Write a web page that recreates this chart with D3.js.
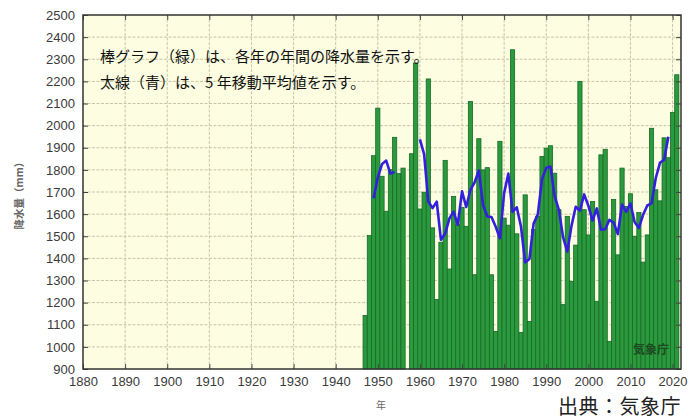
<!DOCTYPE html>
<html>
<head>
<meta charset="utf-8">
<script src="https://cdn.jsdelivr.net/npm/d3@7/dist/d3.min.js"></script>
<style>
  body { margin: 0; background: #ffffff; }
  svg { display: block; }
</style>
</head>
<body>
<svg id="chart" width="690" height="419"></svg>
<script>
// Annual precipitation (mm), 1947-2021; null = no record for that year
const years = d3.range(1947, 2022);
const precipitation = [
  1142, 1503, 1864, 2079, 1771, 1613, 1801, 1947, 1783, 1808,
  null, 1873, 2283, 1623, 1699, 2211, 1538, 1214, 1473, 1843,
  1352, 1680, 1552, 1630, 1545, 2109, 1326, 1941, 1800, 1810,
  1326, 1070, 1929, 1582, 1550, 2343, 1511, 1065, 1687, 1115,
  1530, 1590, 1861, 1898, 1909, 1785, 1620, 1191, 1590, 1296,
  1460, 2200, 1620, 1506, 1657, 1206, 1868, 1893, 1025, 1666,
  1416, 1808, 1635, 1692, 1500, 1607, 1383, 1506, 1988, 1710,
  1660, 1945, 1855, 2059, 2230
];
// 5-year moving average (mm), same years; null where no value is plotted
const movingAverage = [
  null, null, 1672, 1766, 1826, 1842, 1783, 1790, null, null,
  null, null, null, 1938, 1871, 1657, 1627, 1656, 1484, 1512,
  1580, 1611, 1552, 1703, 1632, 1710, 1744, 1797, 1641, 1589,
  1587, 1543, 1491, 1695, 1783, 1610, 1631, 1544, 1382, 1397,
  1557, 1599, 1758, 1809, 1815, 1681, 1619, 1496, 1431, 1547,
  1633, 1616, 1689, 1638, 1571, 1626, 1530, 1532, 1574, 1562,
  1510, 1643, 1610, 1648, 1563, 1538, 1597, 1639, 1649, 1762,
  1832, 1846, 1950, null, null
];
const yTickLabels = [900, 1000, 1100, 1200, 1300, 1400, 1500, 1600, 1700,
                     1800, 1900, 2000, 2100, 2200, 2300, 2400, 2500];
const xTickLabels = [1880, 1890, 1900, 1910, 1920, 1930, 1940, 1950,
                     1960, 1970, 1980, 1990, 2000, 2010, 2020];
const noteLines = [
  "棒グラフ（緑）は、各年の年間の降水量を示す。",
  "太線（青）は、5 年移動平均値を示す。"
];

const svg = d3.select("#chart");
const plot = { left: 83, right: 681, top: 15, bottom: 369 };

const x = d3.scaleLinear().domain([1880, 2022]).range([plot.left, plot.right]);
const y = d3.scaleLinear().domain([900, 2500]).range([plot.bottom, plot.top]);

const labelFont = "'Liberation Sans', Arial, sans-serif";
const jpFont = "'Noto Sans CJK JP', 'Noto Sans', sans-serif";

// plot background
svg.append("rect")
  .attr("x", plot.left).attr("y", plot.top)
  .attr("width", plot.right - plot.left).attr("height", plot.bottom - plot.top)
  .attr("fill", "#fdfde1");

// grid
const grid = svg.append("g").attr("stroke", "#c9c5a6").attr("stroke-width", 1)
  .attr("stroke-dasharray", "3,1.5");
grid.selectAll(".gy").data(yTickLabels.slice(1, -1)).join("line")
  .attr("x1", plot.left).attr("x2", plot.right)
  .attr("y1", d => y(d)).attr("y2", d => y(d));
grid.selectAll(".gx").data(xTickLabels.slice(1)).join("line")
  .attr("y1", plot.top).attr("y2", plot.bottom)
  .attr("x1", d => x(d)).attr("x2", d => x(d));

// bars
const barData = years.map((yr, i) => ({ yr, v: precipitation[i] })).filter(d => d.v != null);
svg.append("g").selectAll("rect").data(barData).join("rect")
  .attr("x", d => x(d.yr - 0.5))
  .attr("width", d => x(d.yr + 0.5) - x(d.yr - 0.5))
  .attr("y", d => y(d.v))
  .attr("height", d => y(900) - y(d.v))
  .attr("fill", "#2b9a3c")
  .attr("stroke", "#17692a")
  .attr("stroke-width", 0.8);

// moving-average line
const line = d3.line()
  .defined(d => d.v != null)
  .x(d => x(d.yr))
  .y(d => y(d.v));
svg.append("path")
  .datum(years.map((yr, i) => ({ yr, v: movingAverage[i] })))
  .attr("d", line)
  .attr("fill", "none")
  .attr("stroke", "#3420dc")
  .attr("stroke-width", 2.6)
  .attr("stroke-linejoin", "round");

// axes (ticks point inward, mirrored on the opposite sides)
function styleAxis(g) {
  g.select(".domain").remove();
  g.selectAll(".tick line").attr("stroke", "#444").attr("stroke-width", 1);
  g.selectAll(".tick text").attr("fill", "#3a3a3a")
    .attr("font-family", labelFont).attr("font-size", 13);
}
svg.append("g").attr("transform", `translate(${plot.left},0)`)
  .call(d3.axisLeft(y).tickValues(yTickLabels).tickFormat(d3.format("d"))
    .tickSizeInner(-5).tickSizeOuter(0).tickPadding(8))
  .call(styleAxis);
svg.append("g").attr("transform", `translate(${plot.right},0)`)
  .call(d3.axisRight(y).tickValues(yTickLabels).tickFormat("")
    .tickSizeInner(-5).tickSizeOuter(0))
  .call(styleAxis);
svg.append("g").attr("transform", `translate(0,${plot.bottom})`)
  .call(d3.axisBottom(x).tickValues(xTickLabels).tickFormat(d3.format("d"))
    .tickSizeInner(-5).tickSizeOuter(0).tickPadding(8))
  .call(styleAxis);
svg.append("g").attr("transform", `translate(0,${plot.top})`)
  .call(d3.axisTop(x).tickValues(xTickLabels).tickFormat("")
    .tickSizeInner(-5).tickSizeOuter(0))
  .call(styleAxis);

// frame
svg.append("rect")
  .attr("x", plot.left).attr("y", plot.top)
  .attr("width", plot.right - plot.left).attr("height", plot.bottom - plot.top)
  .attr("fill", "none").attr("stroke", "#333").attr("stroke-width", 1.5);

// notes inside the plot
svg.append("g").selectAll("text").data(noteLines).join("text")
  .attr("x", 100).attr("y", (d, i) => 62 + i * 26)
  .attr("font-family", jpFont).attr("font-size", 15)
  .attr("fill", "#111")
  .text(d => d);

// agency mark in the corner of the plot
svg.append("text")
  .attr("x", 669).attr("y", 354).attr("text-anchor", "end")
  .attr("font-family", jpFont).attr("font-size", 12).attr("font-weight", "bold")
  .attr("fill", "#1c4a20")
  .text("気象庁");

// axis titles
svg.append("text")
  .attr("transform", "translate(23,193) rotate(-90)")
  .attr("text-anchor", "middle")
  .attr("font-family", jpFont).attr("font-size", 10.5).attr("font-weight", "bold")
  .attr("fill", "#666")
  .text("降水量（mm）");
svg.append("text")
  .attr("x", 381).attr("y", 409).attr("text-anchor", "middle")
  .attr("font-family", jpFont).attr("font-size", 10)
  .attr("fill", "#666")
  .text("年");

// source line
svg.append("text")
  .attr("x", 681).attr("y", 414).attr("text-anchor", "end")
  .attr("font-family", jpFont).attr("font-size", 20)
  .attr("letter-spacing", 0.5)
  .attr("fill", "#222")
  .text("出典：気象庁");
</script>
</body>
</html>
